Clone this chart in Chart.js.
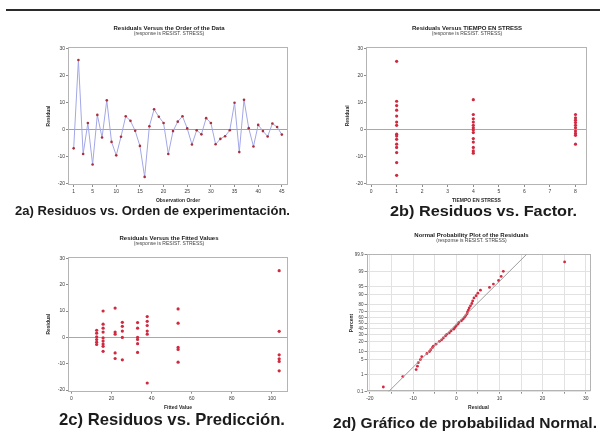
<!DOCTYPE html>
<html><head><meta charset="utf-8">
<script src="https://cdn.jsdelivr.net/npm/chart.js@4"></script>
<style>
html,body{margin:0;padding:0;background:#fff;}
body{width:600px;height:433px;position:relative;overflow:hidden;font-family:"Liberation Sans",Arial,sans-serif;}
canvas{position:absolute;}
.cap{position:absolute;white-space:nowrap;font-weight:bold;color:#1c1c1c;transform-origin:left top;line-height:1;}
#rule{position:absolute;left:6px;top:9px;width:594px;height:2px;background:#2b2b2b;}
</style></head><body>
<div id="rule"></div>
<canvas id="cA" width="260" height="205" style="left:40px;top:0px"></canvas>
<canvas id="cB" width="262" height="205" style="left:336px;top:0px"></canvas>
<canvas id="cC" width="260" height="202" style="left:40px;top:210px"></canvas>
<canvas id="cD" width="253" height="202" style="left:345px;top:210px"></canvas>
<div class="cap" data-left="15" data-width="275" data-cy="210.5" style="font-size:13.5px">2a) Residuos vs. Orden de experimentación.</div>
<div class="cap" data-left="390" data-width="187" data-cy="210.5" style="font-size:15px">2b) Residuos vs. Factor.</div>
<div class="cap" data-left="59" data-width="226" data-cy="419" style="font-size:17px">2c) Residuos vs. Predicción.</div>
<div class="cap" data-left="333" data-width="264" data-cy="423" style="font-size:14px">2d) Gráfico de probabilidad Normal.</div>
<script>
// ---------------- DATA ----------------
// 2a: residuals versus observation order
const obsOrder = [1,2,3,4,5,6,7,8,9,10,11,12,13,14,15,16,17,18,19,20,21,22,23,24,25,26,27,28,29,30,31,32,33,34,35,36,37,38,39,40,41,42,43,44,45];
const residOrder = [-7.0,25.8,-9.1,2.4,-13.0,5.4,-3.0,10.8,-4.6,-9.6,-2.7,4.9,3.2,-0.5,-6.1,-17.6,1.2,7.5,4.7,2.4,-9.1,-0.6,2.9,4.9,0.4,-5.6,-0.3,-1.8,4.2,2.4,-5.5,-3.5,-2.5,-0.3,9.9,-8.4,11.0,0.5,-6.3,1.7,-0.6,-2.6,2.2,0.9,-1.9];
const orderTicks = [1,5,10,15,20,25,30,35,40,45];
const residTicks = [-20,-10,0,10,20,30];

// 2b: residuals versus factor (TIEMPO EN STRESS)
const factorLevels = [1,4,8];
const residLevel1 = [25.2,10.4,8.8,7.1,4.9,2.7,1.5,-1.8,-2.5,-3.7,-5.5,-6.7,-8.6,-12.3,-17.0];
const residLevel4 = [11.0,5.5,3.9,2.7,1.5,0.6,-0.2,-1.2,-3.4,-4.7,-6.7,-8.0,-8.8];
const residLevel8 = [5.5,4.3,3.4,2.5,1.5,0.6,-0.6,-1.5,-2.2,-5.5];
const factorTicks = [0,1,2,3,4,5,6,7,8];

// 2c: residuals versus fitted values
const fittedValues = [12.6,15.8,21.8,25.4,33.0,37.8,53.2,103.6];
const residFit1 = [2.7,1.6,0.2,-0.8,-1.8,-2.7];
const residFit2 = [10.0,5.0,3.5,2.0,-0.2,-1.4,-2.5,-3.4,-5.3];
const residFit3 = [11.1,2.0,1.2,-5.9,-8.0];
const residFit4 = [5.7,4.2,2.4,0.0,-8.5];
const residFit5 = [5.6,3.5,0.0,-0.8,-2.4,-5.7];
const residFit6 = [7.9,6.1,4.5,2.4,1.2,-17.3];
const residFit7 = [10.8,5.4,-3.8,-4.6,-9.4];
const residFit8 = [25.3,2.3,-6.6,-8.1,-9.1,-12.7];
const fittedTicks = [0,20,40,60,80,100];

// 2d: normal probability plot of the residuals
const normResid   = [-16.9,-12.4,-9.3,-9.0,-8.8,-8.3,-8.0,-6.8,-6.2,-5.9,-5.5,-5.3,-4.7,-3.9,-3.4,-3.0,-2.5,-2.2,-1.6,-1.2,-0.6,-0.3,0.0,0.4,0.6,1.2,1.6,1.9,2.2,2.5,2.6,2.8,3.0,3.3,3.6,3.8,4.1,4.6,5.0,5.6,7.7,8.6,9.8,10.4,10.9,25.1];
const normPercent = [0.2,0.8,1.8,2.6,3.7,5.0,6.5,8.5,10,11.5,13.5,15,17,20.5,22.5,25,28,30.5,33,36,39,42,45,48,51,54,57,60,63,66,69,72,75,78,81,84,87,89,91,93,94.5,96,97.2,98.2,99,99.7];
const fitLineResid = [-15.7,16.3];
const fitLinePercent = [0.1,99.9];
const percentTicks = [0.1,1,5,10,20,30,40,50,60,70,80,90,95,99,99.9];
const normResidTicks = [-20,-15,-10,-5,0,5,10,15,20,25,30];

// ---------------- HELPERS ----------------
const FONT = "'Liberation Sans', Arial, sans-serif";

function probit(p){ // inverse standard normal CDF (Acklam)
  const a=[-3.969683028665376e+01,2.209460984245205e+02,-2.759285104469687e+02,1.383577518672690e+02,-3.066479806614716e+01,2.506628277459239e+00];
  const b=[-5.447609879822406e+01,1.615858368580409e+02,-1.556989798598866e+02,6.680131188771972e+01,-1.328068155288572e+01];
  const c=[-7.784894002430293e-03,-3.223964580411365e-01,-2.400758277161838e+00,-2.549732539343734e+00,4.374664141464968e+00,2.938163982698783e+00];
  const d=[7.784695709041462e-03,3.224671290700398e-01,2.445134137142996e+00,3.754408661907416e+00];
  const pl=0.02425, ph=1-pl; let q,r;
  if(p<pl){q=Math.sqrt(-2*Math.log(p));return (((((c[0]*q+c[1])*q+c[2])*q+c[3])*q+c[4])*q+c[5])/((((d[0]*q+d[1])*q+d[2])*q+d[3])*q+1);}
  if(p<=ph){q=p-0.5;r=q*q;return (((((a[0]*r+a[1])*r+a[2])*r+a[3])*r+a[4])*r+a[5])*q/(((((b[0]*r+b[1])*r+b[2])*r+b[3])*r+b[4])*r+1);}
  q=Math.sqrt(-2*Math.log(1-p));return -(((((c[0]*q+c[1])*q+c[2])*q+c[3])*q+c[4])*q+c[5])/((((d[0]*q+d[1])*q+d[2])*q+d[3])*q+1);
}
function ncdf(z){const t=1/(1+0.2316419*Math.abs(z));const d=0.3989423*Math.exp(-z*z/2);let p=d*t*(0.3193815+t*(-0.3565638+t*(1.781478+t*(-1.821256+t*1.330274))));return z>0?1-p:p;}

class ProbitScale extends Chart.LinearScale {
  _zr(){ return [probit(this.min/100), probit(this.max/100)]; }
  getPixelForValue(value){
    if(value===null||value===undefined) return NaN;
    const [z0,z1]=this._zr();
    return this.getPixelForDecimal((probit(value/100)-z0)/(z1-z0));
  }
  getValueForPixel(pixel){
    const [z0,z1]=this._zr();
    return 100*ncdf(z0+this.getDecimalForPixel(pixel)*(z1-z0));
  }
}
ProbitScale.id='probit';
ProbitScale.defaults={};
Chart.register(ProbitScale);

const framePlugin = {
  id:'frame',
  beforeDatasetsDraw(chart, args, opts){
    const {ctx, chartArea:a, scales} = chart;
    ctx.save();
    if(opts.zeroColor){
      const y = Math.round(scales.y.getPixelForValue(0))+0.5;
      ctx.strokeStyle=opts.zeroColor; ctx.lineWidth=1;
      ctx.beginPath(); ctx.moveTo(a.left,y); ctx.lineTo(a.right,y); ctx.stroke();
    }
    ctx.strokeStyle=opts.color||'#b4b4b4'; ctx.lineWidth=1;
    ctx.strokeRect(Math.round(a.left)+0.5, Math.round(a.top)+0.5, Math.round(a.right-a.left)-1, Math.round(a.bottom-a.top)-1);
    ctx.restore();
  }
};
Chart.register(framePlugin);

function axis(pos, min, max, ticks, title, size, titlePad, extra){
  const horiz = pos==='bottom';
  return Object.assign({
    type:'linear', position:pos, min, max,
    afterBuildTicks: s => { s.ticks = ticks.map(v => ({value:v})); },
    afterFit: s => { if(horiz) s.height=size; else s.width=size; },
    grid:{ drawOnChartArea:false, drawTicks:true, tickLength:2, tickColor:'#8c8c8c', color:'#8c8c8c' },
    border:{ display:false },
    ticks:{ font:{family:FONT,size:5}, color:'#3a3a3a', padding: horiz?2:1, autoSkip:false, maxRotation:0, minRotation:0, callback: v => String(v) },
    title:{ display:true, text:title, font:{family:FONT,size:5,weight:'bold',lineHeight:1}, color:'#2a2a2a', padding: titlePad }
  }, extra||{});
}

function baseOptions(title, subtitle, padding, subPadBottom, frameOpts, scales){
  return {
    responsive:false, animation:false, devicePixelRatio:1,
    layout:{ padding },
    plugins:{
      legend:{display:false}, tooltip:{enabled:false},
      title:{display:true, text:title, color:'#222', font:{family:FONT,size:6,weight:'bold',lineHeight:1}, padding:{top:0,bottom:0}},
      subtitle:{display:true, text:subtitle, color:'#444', font:{family:FONT,size:5,lineHeight:1}, padding:{top:0,bottom:subPadBottom}},
      frame: frameOpts
    },
    scales
  };
}

const SUB = '(response is RESIST. STRESS)';

// ---------------- 2a ----------------
new Chart(document.getElementById('cA'), {
  type:'scatter',
  data:{ datasets:[{
    data: obsOrder.map((o,i)=>({x:o, y:residOrder[i]})),
    showLine:true, borderColor:'#a3a7e6', borderWidth:1,
    pointRadius:1.3, pointBackgroundColor:'#a8303e', pointBorderColor:'#a8303e', pointBorderWidth:0
  }]},
  options: baseOptions('Residuals Versus the Order of the Data', SUB,
    {top:25,left:10,right:12,bottom:0}, 11, {zeroColor:'#d88a96'},
    { x: axis('bottom', -0.2, 46.3, orderTicks, 'Observation Order', 20, {top:0,bottom:1.5}),
      y: axis('left', -20.6, 30.6, residTicks, 'Residual', 18, {top:-3.5,bottom:0}) })
});

// ---------------- 2b ----------------
const ptsB = [].concat(
  residLevel1.map(v=>({x:factorLevels[0], y:v})),
  residLevel4.map(v=>({x:factorLevels[1], y:v})),
  residLevel8.map(v=>({x:factorLevels[2], y:v})));
new Chart(document.getElementById('cB'), {
  type:'scatter',
  data:{ datasets:[{ data:ptsB, pointRadius:1.6, pointBackgroundColor:'#cf2a40', pointBorderColor:'#cf2a40', pointBorderWidth:0 }]},
  options: baseOptions('Residuals Versus TIEMPO EN STRESS', SUB,
    {top:25,left:11,right:11,bottom:0}, 10.7, {zeroColor:'#a8a8a8'},
    { x: axis('bottom', -0.2, 8.45, factorTicks, 'TIEMPO EN STRESS', 20, {top:0,bottom:1.5}),
      y: axis('left', -20.6, 30.6, residTicks, 'Residual', 19, {top:-1.5,bottom:0}) })
});

// ---------------- 2c ----------------
const residFitGroups = [residFit1,residFit2,residFit3,residFit4,residFit5,residFit6,residFit7,residFit8];
const ptsC = [];
residFitGroups.forEach((g,i)=>g.forEach(v=>ptsC.push({x:fittedValues[i], y:v})));
new Chart(document.getElementById('cC'), {
  type:'scatter',
  data:{ datasets:[{ data:ptsC, pointRadius:1.6, pointBackgroundColor:'#cf2a40', pointBorderColor:'#cf2a40', pointBorderWidth:0 }]},
  options: baseOptions('Residuals Versus the Fitted Values', SUB,
    {top:25,left:10,right:12,bottom:0}, 10.7, {zeroColor:'#a8a8a8'},
    { x: axis('bottom', -1.7, 108, fittedTicks, 'Fitted Value', 20.3, {top:0,bottom:1.8}),
      y: axis('left', -20.6, 30.6, residTicks, 'Residual', 18, {top:-3.5,bottom:0}) })
});

// ---------------- 2d ----------------
const xD = axis('bottom', -20.8, 31.1, normResidTicks, 'Residual', 20.3, {top:0,bottom:2.2});
xD.grid = { drawOnChartArea:true, drawTicks:true, tickLength:2, tickColor:'#8c8c8c', color:'#e2e2e2' };
xD.ticks.callback = v => (v % 10 === 0 ? String(v) : '');
const yD = axis('left', 0.1, 99.9, percentTicks, 'Percent', 14, {top:-3.3,bottom:0});
yD.type = 'probit';
yD.grid = { drawOnChartArea:true, drawTicks:true, tickLength:2, tickColor:'#8c8c8c', color:'#e2e2e2' };
yD.ticks.font = {family:FONT, size:4.5};
new Chart(document.getElementById('cD'), {
  type:'scatter',
  data:{ datasets:[
    { data: fitLineResid.map((r,i)=>({x:r, y:fitLinePercent[i]})), showLine:true, borderColor:'#9c9c9c', borderWidth:1, pointRadius:0 },
    { data: normResid.map((r,i)=>({x:r, y:normPercent[i]})), pointRadius:1.4, pointBackgroundColor:'#d8283e', pointBorderColor:'#d8283e', pointBorderWidth:0 }
  ]},
  options: baseOptions('Normal Probability Plot of the Residuals', SUB,
    {top:22,left:7.5,right:7.5,bottom:0}, 11.3, {},
    { x: xD, y: yD })
});

// ---------------- captions ----------------
document.querySelectorAll('.cap').forEach(el=>{
  const w = el.getBoundingClientRect().width, h = el.getBoundingClientRect().height;
  const target = +el.dataset.width;
  el.style.left = el.dataset.left+'px';
  el.style.top = (+el.dataset.cy - h/2)+'px';
  el.style.transform = 'scaleX('+(target/w)+')';
});
</script>
</body></html>
